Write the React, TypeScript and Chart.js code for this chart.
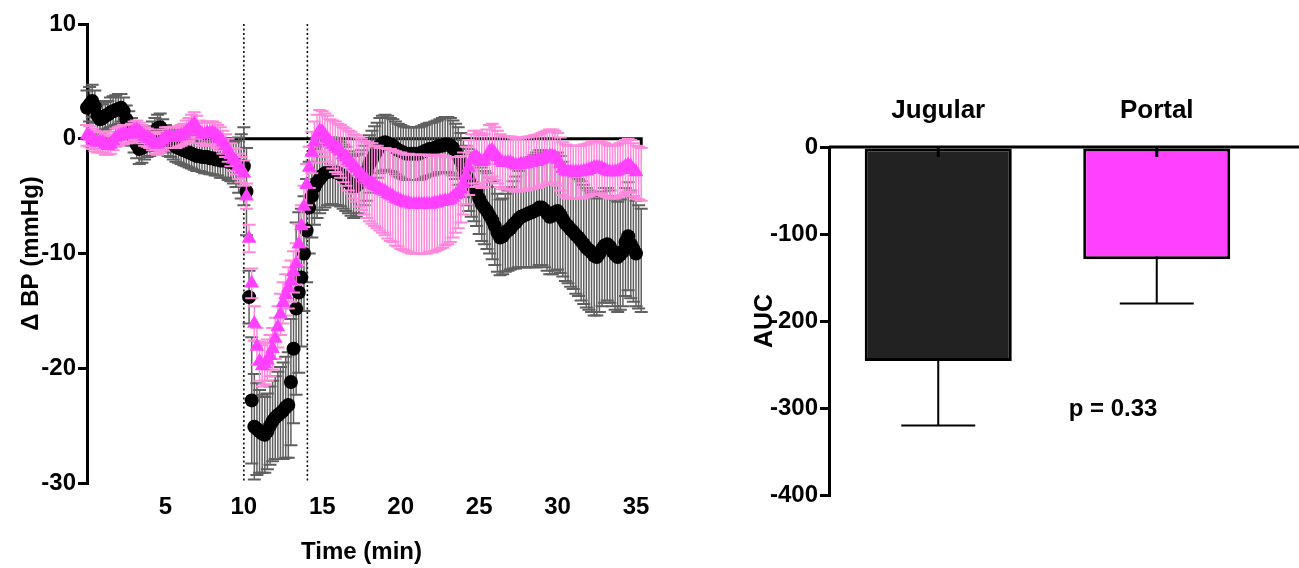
import React, { useEffect, useRef } from "react";
import { Chart, registerables } from "chart.js";

Chart.register(...registerables);

// ---------- Left panel: Δ BP time course (10-s samples) ----------
const TIME_MIN = [
  0, 0.167, 0.333, 0.5, 0.667, 0.833,
  1, 1.167, 1.333, 1.5, 1.667, 1.833,
  2, 2.167, 2.333, 2.5, 2.667, 2.833,
  3, 3.167, 3.333, 3.5, 3.667, 3.833,
  4, 4.167, 4.333, 4.5, 4.667, 4.833,
  5, 5.167, 5.333, 5.5, 5.667, 5.833,
  6, 6.167, 6.333, 6.5, 6.667, 6.833,
  7, 7.167, 7.333, 7.5, 7.667, 7.833,
  8, 8.167, 8.333, 8.5, 8.667, 8.833,
  9, 9.167, 9.333, 9.5, 9.667, 9.833,
  10, 10.167, 10.333, 10.5, 10.667, 10.833,
  11, 11.167, 11.333, 11.5, 11.667, 11.833,
  12, 12.167, 12.333, 12.5, 12.667, 12.833,
  13, 13.167, 13.333, 13.5, 13.667, 13.833,
  14, 14.167, 14.333, 14.5, 14.667, 14.833,
  15, 15.167, 15.333, 15.5, 15.667, 15.833,
  16, 16.167, 16.333, 16.5, 16.667, 16.833,
  17, 17.167, 17.333, 17.5, 17.667, 17.833,
  18, 18.167, 18.333, 18.5, 18.667, 18.833,
  19, 19.167, 19.333, 19.5, 19.667, 19.833,
  20, 20.167, 20.333, 20.5, 20.667, 20.833,
  21, 21.167, 21.333, 21.5, 21.667, 21.833,
  22, 22.167, 22.333, 22.5, 22.667, 22.833,
  23, 23.167, 23.333, 23.5, 23.667, 23.833,
  24, 24.167, 24.333, 24.5, 24.667, 24.833,
  25, 25.167, 25.333, 25.5, 25.667, 25.833,
  26, 26.167, 26.333, 26.5, 26.667, 26.833,
  27, 27.167, 27.333, 27.5, 27.667, 27.833,
  28, 28.167, 28.333, 28.5, 28.667, 28.833,
  29, 29.167, 29.333, 29.5, 29.667, 29.833,
  30, 30.167, 30.333, 30.5, 30.667, 30.833,
  31, 31.167, 31.333, 31.5, 31.667, 31.833,
  32, 32.167, 32.333, 32.5, 32.667, 32.833,
  33, 33.167, 33.333, 33.5, 33.667, 33.833,
  34, 34.167, 34.333, 34.5, 34.667, 34.833,
  35, 35.167, 35.333,
];

const JUGULAR_MEAN = [
  2.7, 3.0, 3.3, 2.8, 2.0, 1.7,
  1.8, 2.0, 2.1, 2.3, 2.4, 2.5,
  2.6, 2.7, 2.4, 1.7, 1.2, 0.6,
  0.0, -0.5, -0.9, -0.8, -0.5, -0.3,
  -0.2, 0.2, 0.5, 0.9, 1.0, 0.5,
  0.0, -0.3, -0.4, -0.5, -0.7, -0.8,
  -0.9, -1.0, -1.1, -1.2, -1.3, -1.4,
  -1.5, -1.5, -1.6, -1.6, -1.6, -1.7,
  -1.7, -1.8, -1.8, -1.9, -1.9, -1.9,
  -2.0, -2.0, -2.1, -2.2, -2.3, -2.4,
  -2.4, -4.6, -13.8, -22.8, -25.1, -25.3,
  -25.5, -25.7, -25.8, -25.5, -25.0, -24.6,
  -24.3, -24.1, -23.9, -23.7, -23.4, -23.2,
  -21.2, -18.3, -14.8, -13.4, -12.1, -10.0,
  -8.0, -6.0, -5.0, -4.2, -3.8, -3.5,
  -3.2, -3.0, -2.9, -2.8, -2.8, -2.9,
  -3.0, -3.1, -3.3, -3.5, -3.8, -4.0,
  -4.2, -4.1, -3.9, -3.6, -3.2, -2.8,
  -2.2, -1.8, -1.4, -1.0, -0.6, -0.4,
  -0.3, -0.4, -0.5, -0.6, -0.8, -1.0,
  -1.1, -1.2, -1.3, -1.3, -1.3, -1.3,
  -1.3, -1.3, -1.2, -1.1, -1.0, -0.9,
  -0.9, -0.8, -0.7, -0.6, -0.6, -0.5,
  -0.5, -0.6, -0.8, -1.1, -1.5, -2.0,
  -2.6, -3.2, -3.6, -4.0, -4.3, -4.6,
  -5.2, -5.7, -6.0, -6.3, -6.7, -7.1,
  -7.6, -8.2, -8.6, -8.5, -8.2, -8.0,
  -7.8, -7.5, -7.3, -7.0, -6.8, -6.7,
  -6.6, -6.5, -6.4, -6.3, -6.2, -6.0,
  -6.0, -6.2, -6.5, -6.8, -6.7, -6.4,
  -6.3, -6.6, -7.0, -7.4, -7.6, -7.9,
  -8.1, -8.4, -8.6, -8.9, -9.2, -9.5,
  -9.7, -9.9, -10.2, -10.3, -10.0, -9.6,
  -9.3, -9.2, -9.4, -9.8, -10.1, -10.3,
  -10.1, -9.8, -9.0, -8.5, -9.2, -9.6,
  -10.0, -10.3, -10.6,
];

const JUGULAR_SEM = [
  1.5, 1.5, 1.4, 1.4, 1.3, 1.3,
  1.2, 1.2, 1.2, 1.3, 1.3, 1.3,
  1.3, 1.2, 1.2, 1.2, 1.2, 1.2,
  1.2, 1.2, 1.3, 1.3, 1.3, 1.3,
  1.3, 1.3, 1.3, 1.2, 1.2, 1.2,
  1.2, 1.2, 1.2, 1.3, 1.3, 1.3,
  1.3, 1.3, 1.3, 1.3, 1.3, 1.3,
  1.3, 1.3, 1.3, 1.4, 1.4, 1.4,
  1.4, 1.4, 1.4, 1.5, 1.5, 1.5,
  1.6, 1.7, 1.8, 2.0, 2.4, 2.8,
  3.4, 3.8, 2.3, 5.5, 4.6, 4.0,
  3.6, 3.4, 3.3, 3.3, 3.4, 3.5,
  3.6, 3.8, 4.0, 4.2, 4.4, 4.6,
  5.5, 6.5, 7.5, 7.0, 6.0, 5.0,
  4.5, 4.0, 3.6, 3.3, 3.1, 3.0,
  3.0, 3.0, 2.9, 2.9, 2.9, 2.9,
  2.8, 2.8, 2.8, 2.8, 2.7, 2.7,
  2.7, 2.7, 2.6, 2.6, 2.6, 2.6,
  2.5, 2.5, 2.5, 2.4, 2.4, 2.4,
  2.4, 2.4, 2.3, 2.3, 2.3, 2.3,
  2.3, 2.3, 2.3, 2.3, 2.3, 2.3,
  2.3, 2.3, 2.3, 2.3, 2.3, 2.3,
  2.3, 2.3, 2.3, 2.3, 2.4, 2.4,
  2.4, 2.4, 2.4, 2.4, 2.5, 2.5,
  2.5, 2.6, 2.7, 2.8, 2.9, 3.0,
  3.1, 3.2, 3.2, 3.3, 3.3, 3.4,
  3.4, 3.4, 3.3, 3.3, 3.4, 3.5,
  3.6, 3.8, 4.0, 4.2, 4.4, 4.5,
  4.6, 4.7, 4.8, 4.9, 5.0, 5.0,
  5.0, 5.0, 5.0, 5.0, 5.1, 5.1,
  5.1, 5.1, 5.0, 5.0, 5.0, 5.0,
  5.0, 5.1, 5.1, 5.2, 5.2, 5.2,
  5.2, 5.2, 5.2, 5.1, 5.1, 5.0,
  5.0, 4.9, 4.9, 4.8, 4.8, 4.8,
  4.8, 4.8, 4.7, 4.7, 4.7, 4.6,
  4.6, 4.5, 4.5,
];

const PORTAL_MEAN = [
  0.3, 0.2, 0.0, -0.2, -0.3, -0.3,
  -0.3, -0.5, -0.6, -0.5, -0.2, 0.1,
  0.2, 0.3, 0.4, 0.4, 0.4, 0.5,
  0.7, 0.8, 0.6, 0.4, 0.2, 0.1,
  0.0, -0.2, -0.4, -0.5, -0.3, -0.1,
  0.1, 0.1, 0.1, 0.1, 0.1, 0.2,
  0.3, 0.4, 0.6, 0.8, 1.1, 1.3,
  1.0, 0.6, 0.4, 0.4, 0.5, 0.5,
  0.5, 0.4, 0.2, 0.0, -0.3, -0.6,
  -1.0, -1.4, -1.8, -2.0, -2.4, -2.7,
  -3.0, -5.0, -8.7, -12.6, -16.1, -18.1,
  -19.4, -19.8, -19.6, -19.3, -18.9, -18.3,
  -17.4, -16.4, -15.3, -14.3, -13.6, -13.0,
  -12.4, -11.6, -10.9, -9.2, -7.6, -5.9,
  -4.0, -2.5, -1.2, -0.3, 0.3, 0.7,
  0.6, 0.3, 0.0, -0.3, -0.5, -0.7,
  -0.9, -1.1, -1.4, -1.6, -1.9, -2.1,
  -2.4, -2.6, -2.9, -3.1, -3.4, -3.6,
  -3.8, -3.9, -4.1, -4.2, -4.4, -4.5,
  -4.6, -4.8, -4.9, -5.0, -5.2, -5.3,
  -5.4, -5.5, -5.6, -5.6, -5.7, -5.7,
  -5.7, -5.7, -5.7, -5.7, -5.7, -5.7,
  -5.7, -5.6, -5.6, -5.5, -5.5, -5.4,
  -5.4, -5.3, -5.1, -4.9, -4.7, -4.4,
  -3.9, -3.2, -2.5, -1.9, -1.6, -1.6,
  -1.8, -2.0, -1.9, -1.5, -1.1, -1.0,
  -1.3, -1.6, -1.9, -2.1, -2.1, -2.1,
  -2.1, -2.2, -2.3, -2.3, -2.2, -2.2,
  -2.2, -2.1, -2.1, -2.0, -2.0, -1.9,
  -1.8, -1.7, -1.6, -1.5, -1.5, -1.6,
  -1.8, -2.2, -2.6, -2.8, -2.9, -2.9,
  -2.9, -2.9, -2.9, -2.9, -2.8, -2.8,
  -2.7, -2.6, -2.5, -2.5, -2.5, -2.6,
  -2.7, -2.8, -2.9, -2.9, -2.9, -2.8,
  -2.7, -2.6, -2.4, -2.3, -2.4, -2.7,
  -2.9, -3.0, -3.1,
];

const PORTAL_SEM = [
  0.9, 0.9, 0.9, 0.9, 0.9, 0.9,
  0.9, 0.9, 0.8, 0.8, 0.8, 0.8,
  0.8, 0.8, 0.8, 0.8, 0.8, 0.8,
  0.8, 0.8, 0.8, 0.8, 0.8, 0.8,
  0.8, 0.8, 0.9, 0.9, 0.9, 0.9,
  0.9, 0.9, 0.9, 0.9, 0.9, 0.9,
  0.9, 0.9, 1.0, 1.0, 1.0, 1.0,
  1.0, 1.0, 1.0, 1.0, 1.0, 1.0,
  1.0, 1.0, 1.0, 1.0, 1.0, 1.0,
  1.0, 1.0, 1.0, 1.1, 1.1, 1.1,
  1.1, 1.1, 1.2, 1.3, 1.5, 1.6,
  1.7, 1.8, 1.8, 1.8, 1.8, 1.8,
  1.8, 1.8, 1.8, 1.8, 1.8, 1.8,
  1.8, 1.8, 1.8, 1.8, 1.8, 1.8,
  1.8, 1.8, 1.8, 1.8, 1.8, 1.8,
  1.8, 1.9, 2.0, 2.0, 2.1, 2.2,
  2.2, 2.3, 2.4, 2.5, 2.6, 2.7,
  2.8, 2.9, 3.0, 3.1, 3.2, 3.3,
  3.4, 3.5, 3.5, 3.6, 3.6, 3.7,
  3.8, 3.9, 4.0, 4.0, 4.1, 4.1,
  4.2, 4.2, 4.2, 4.3, 4.3, 4.3,
  4.3, 4.3, 4.3, 4.3, 4.3, 4.2,
  4.2, 4.2, 4.1, 4.1, 4.0, 3.9,
  3.8, 3.7, 3.5, 3.3, 3.1, 2.9,
  2.7, 2.5, 2.4, 2.3, 2.3, 2.3,
  2.3, 2.3, 2.3, 2.3, 2.3, 2.3,
  2.3, 2.3, 2.3, 2.3, 2.3, 2.3,
  2.3, 2.3, 2.3, 2.3, 2.3, 2.3,
  2.3, 2.3, 2.3, 2.3, 2.3, 2.3,
  2.3, 2.3, 2.3, 2.3, 2.3, 2.3,
  2.3, 2.3, 2.3, 2.3, 2.3, 2.3,
  2.3, 2.3, 2.3, 2.3, 2.3, 2.3,
  2.3, 2.3, 2.3, 2.3, 2.3, 2.3,
  2.3, 2.3, 2.3, 2.3, 2.3, 2.3,
  2.3, 2.3, 2.3, 2.3, 2.3, 2.3,
  2.3, 2.3, 2.3,
];

const TIME_TICKS = [5, 10, 15, 20, 25, 30, 35];
const BP_TICKS = [10, 0, -10, -20, -30];
const INFUSION_MARKS_MIN = [10, 14.05];

// ---------- Right panel: AUC ----------
const AUC_GROUPS = ["Jugular", "Portal"];
const AUC_MEAN = [-246, -129];
const AUC_SEM = [74, 51];
const AUC_TICKS = [0, -100, -200, -300, -400];
const P_LABEL = "p = 0.33";

const FONT_FAMILY = "Arial, 'Liberation Sans', Helvetica, sans-serif";
const BLACK = "#000000";
const GREY_ERR = "#606060";
const MAGENTA = "#FF40FF";
const PINK_ERR = "#FF88DD";

const pointErrorBars = {
  id: "pointErrorBars",
  beforeDatasetDraw(chart: any, args: any) {
    const ds = chart.data.datasets[args.index];
    if (!ds.sem) return;
    const ctx = chart.ctx;
    const y = chart.scales.y;
    ctx.save();
    ctx.strokeStyle = ds.errColor;
    args.meta.data.forEach((pt: any, i: number) => {
      const v = ds.data[i].y;
      const s = ds.sem[i];
      const yt = y.getPixelForValue(v + s);
      const yb = y.getPixelForValue(v - s);
      const px = pt.x;
      ctx.lineWidth = 1.5;
      ctx.beginPath();
      ctx.moveTo(px, yt);
      ctx.lineTo(px, yb);
      ctx.stroke();
      ctx.lineWidth = 2;
      ctx.beginPath();
      ctx.moveTo(px - 6.5, yt);
      ctx.lineTo(px + 6.5, yt);
      ctx.moveTo(px - 6.5, yb);
      ctx.lineTo(px + 6.5, yb);
      ctx.stroke();
    });
    ctx.restore();
  },
};

const timeGuides = {
  id: "timeGuides",
  beforeDatasetsDraw(chart: any) {
    const { ctx } = chart;
    const x = chart.scales.x;
    const y = chart.scales.y;
    ctx.save();
    ctx.strokeStyle = BLACK;
    ctx.lineWidth = 1.5;
    ctx.setLineDash([2, 2.5]);
    INFUSION_MARKS_MIN.forEach((t) => {
      const px = x.getPixelForValue(t);
      ctx.beginPath();
      ctx.moveTo(px, y.getPixelForValue(10));
      ctx.lineTo(px, y.getPixelForValue(-30));
      ctx.stroke();
    });
    ctx.setLineDash([]);
    const y0 = y.getPixelForValue(0);
    const xEnd = x.getPixelForValue(TIME_MIN[TIME_MIN.length - 1]);
    ctx.lineWidth = 3;
    ctx.lineJoin = "miter";
    ctx.beginPath();
    ctx.moveTo(x.getPixelForValue(0), y0);
    ctx.lineTo(xEnd, y0);
    ctx.lineTo(xEnd, y0 + 7);
    ctx.stroke();
    ctx.restore();
  },
};

const barExtras = {
  id: "barExtras",
  beforeDatasetsDraw(chart: any) {
    const { ctx } = chart;
    const x = chart.scales.x;
    const y = chart.scales.y;
    ctx.save();
    ctx.strokeStyle = BLACK;
    ctx.lineWidth = 2;
    AUC_MEAN.forEach((m, i) => {
      const px = x.getPixelForValue(i);
      const yt = y.getPixelForValue(m + AUC_SEM[i]);
      const yb = y.getPixelForValue(m - AUC_SEM[i]);
      ctx.beginPath();
      ctx.moveTo(px, yt);
      ctx.lineTo(px, yb);
      ctx.moveTo(px - 37, yb);
      ctx.lineTo(px + 37, yb);
      ctx.stroke();
    });
    ctx.restore();
  },
  afterDatasetsDraw(chart: any) {
    const { ctx, chartArea } = chart;
    const x = chart.scales.x;
    const y = chart.scales.y;
    const y0 = y.getPixelForValue(0);
    ctx.save();
    ctx.strokeStyle = BLACK;
    ctx.lineWidth = 3;
    ctx.beginPath();
    ctx.moveTo(chartArea.left, y0);
    ctx.lineTo(chart.width, y0);
    AUC_GROUPS.forEach((_, i) => {
      const px = x.getPixelForValue(i);
      ctx.moveTo(px, y0);
      ctx.lineTo(px, y0 + 10);
    });
    ctx.stroke();
    ctx.fillStyle = BLACK;
    ctx.font = `bold 24px ${FONT_FAMILY}`;
    ctx.textAlign = "center";
    ctx.textBaseline = "middle";
    ctx.fillText(P_LABEL, x.getPixelForValue(0.8), y.getPixelForValue(-302));
    ctx.restore();
  },
};

function TimeCourse() {
  const ref = useRef<HTMLCanvasElement>(null);
  useEffect(() => {
    const yTickFont = { family: FONT_FAMILY, size: 24, weight: "bold" as const };
    const xTickFont = { family: FONT_FAMILY, size: 24, weight: "bold" as const };
    const titleFont = { family: FONT_FAMILY, size: 24, weight: "bold" as const };
    const chart = new Chart(ref.current!, {
      type: "scatter",
      data: {
        datasets: [
          {
            label: "Portal",
            data: TIME_MIN.map((t, i) => ({ x: t, y: PORTAL_MEAN[i] })),
            sem: PORTAL_SEM,
            errColor: PINK_ERR,
            pointStyle: "triangle",
            pointRadius: 8.5,
            pointBackgroundColor: MAGENTA,
            pointBorderWidth: 0,
            showLine: false,
            clip: false,
          } as any,
          {
            label: "Jugular",
            data: TIME_MIN.map((t, i) => ({ x: t, y: JUGULAR_MEAN[i] })),
            sem: JUGULAR_SEM,
            errColor: GREY_ERR,
            pointStyle: "circle",
            pointRadius: 7,
            pointBackgroundColor: BLACK,
            pointBorderWidth: 0,
            showLine: false,
            clip: false,
          } as any,
        ],
      },
      options: {
        animation: false,
        responsive: false,
        maintainAspectRatio: false,
        events: [],
        layout: { padding: { top: 24, right: 44, left: 0, bottom: 0 } },
        plugins: { legend: { display: false }, tooltip: { enabled: false } },
        scales: {
          x: {
            type: "linear",
            position: "bottom",
            min: 0,
            max: 35,
            afterBuildTicks: (s: any) => {
              s.ticks = TIME_TICKS.map((v) => ({ value: v }));
            },
            afterFit: (s: any) => {
              s.height = 85;
            },
            grid: { display: false, drawTicks: false },
            border: { display: false },
            ticks: { font: xTickFont, color: BLACK, padding: 10, maxRotation: 0, autoSkip: false },
            title: { display: true, text: "Time (min)", font: titleFont, color: BLACK, padding: { top: 0, bottom: 1 } },
          },
          y: {
            type: "linear",
            min: -30,
            max: 10,
            afterBuildTicks: (s: any) => {
              s.ticks = BP_TICKS.map((v) => ({ value: v }));
            },
            afterFit: (s: any) => {
              s.width = 87;
            },
            grid: { display: true, drawOnChartArea: false, drawTicks: true, tickLength: 9, color: BLACK, lineWidth: 3 },
            border: { display: true, color: BLACK, width: 3 },
            ticks: { font: yTickFont, color: BLACK, padding: 2 },
            title: { display: true, text: "Δ BP (mmHg)", font: titleFont, color: BLACK, padding: { top: 17, bottom: 0 } },
          },
        },
      } as any,
      plugins: [timeGuides, pointErrorBars],
    });
    return () => chart.destroy();
  }, []);
  return <canvas ref={ref} width={680} height={568} style={{ position: "absolute", left: 0, top: 0, width: 680, height: 568 }} />;
}

function AucBars() {
  const ref = useRef<HTMLCanvasElement>(null);
  useEffect(() => {
    const tickFont = { family: FONT_FAMILY, size: 24, weight: "bold" as const };
    const catFont = { family: FONT_FAMILY, size: 26, weight: "bold" as const };
    const titleFont = { family: FONT_FAMILY, size: 25, weight: "bold" as const };
    const chart = new Chart(ref.current!, {
      type: "bar",
      data: {
        labels: AUC_GROUPS,
        datasets: [
          {
            data: AUC_MEAN,
            backgroundColor: ["#222222", MAGENTA],
            borderColor: BLACK,
            borderWidth: 3,
            borderSkipped: false,
            barPercentage: 0.673,
            categoryPercentage: 1,
          },
        ],
      },
      options: {
        animation: false,
        responsive: false,
        maintainAspectRatio: false,
        events: [],
        layout: { padding: { top: 0, right: 33, left: 0, bottom: 73 } },
        plugins: { legend: { display: false }, tooltip: { enabled: false } },
        scales: {
          x: {
            type: "category",
            position: "top",
            afterFit: (s: any) => {
              s.height = 147;
            },
            grid: { display: false, drawTicks: false },
            border: { display: false },
            ticks: { font: catFont, color: BLACK, padding: 21 },
          },
          y: {
            type: "linear",
            min: -400,
            max: 0,
            afterBuildTicks: (s: any) => {
              s.ticks = AUC_TICKS.map((v) => ({ value: v }));
            },
            afterFit: (s: any) => {
              s.width = 149;
            },
            grid: { display: true, drawOnChartArea: false, drawTicks: true, tickLength: 9, color: BLACK, lineWidth: 3 },
            border: { display: true, color: BLACK, width: 3 },
            ticks: { font: tickFont, color: BLACK, padding: 2 },
            title: { display: true, text: "AUC", font: titleFont, color: BLACK, padding: { top: 70, bottom: 0 } },
          },
        },
      } as any,
      plugins: [barExtras],
    });
    return () => chart.destroy();
  }, []);
  return <canvas ref={ref} width={619} height={568} style={{ position: "absolute", left: 680, top: 0, width: 619, height: 568 }} />;
}

export default function App() {
  return (
    <div style={{ position: "fixed", left: 0, top: 0, width: 1299, height: 568, background: "#ffffff", overflow: "hidden" }}>
      <TimeCourse />
      <AucBars />
    </div>
  );
}
